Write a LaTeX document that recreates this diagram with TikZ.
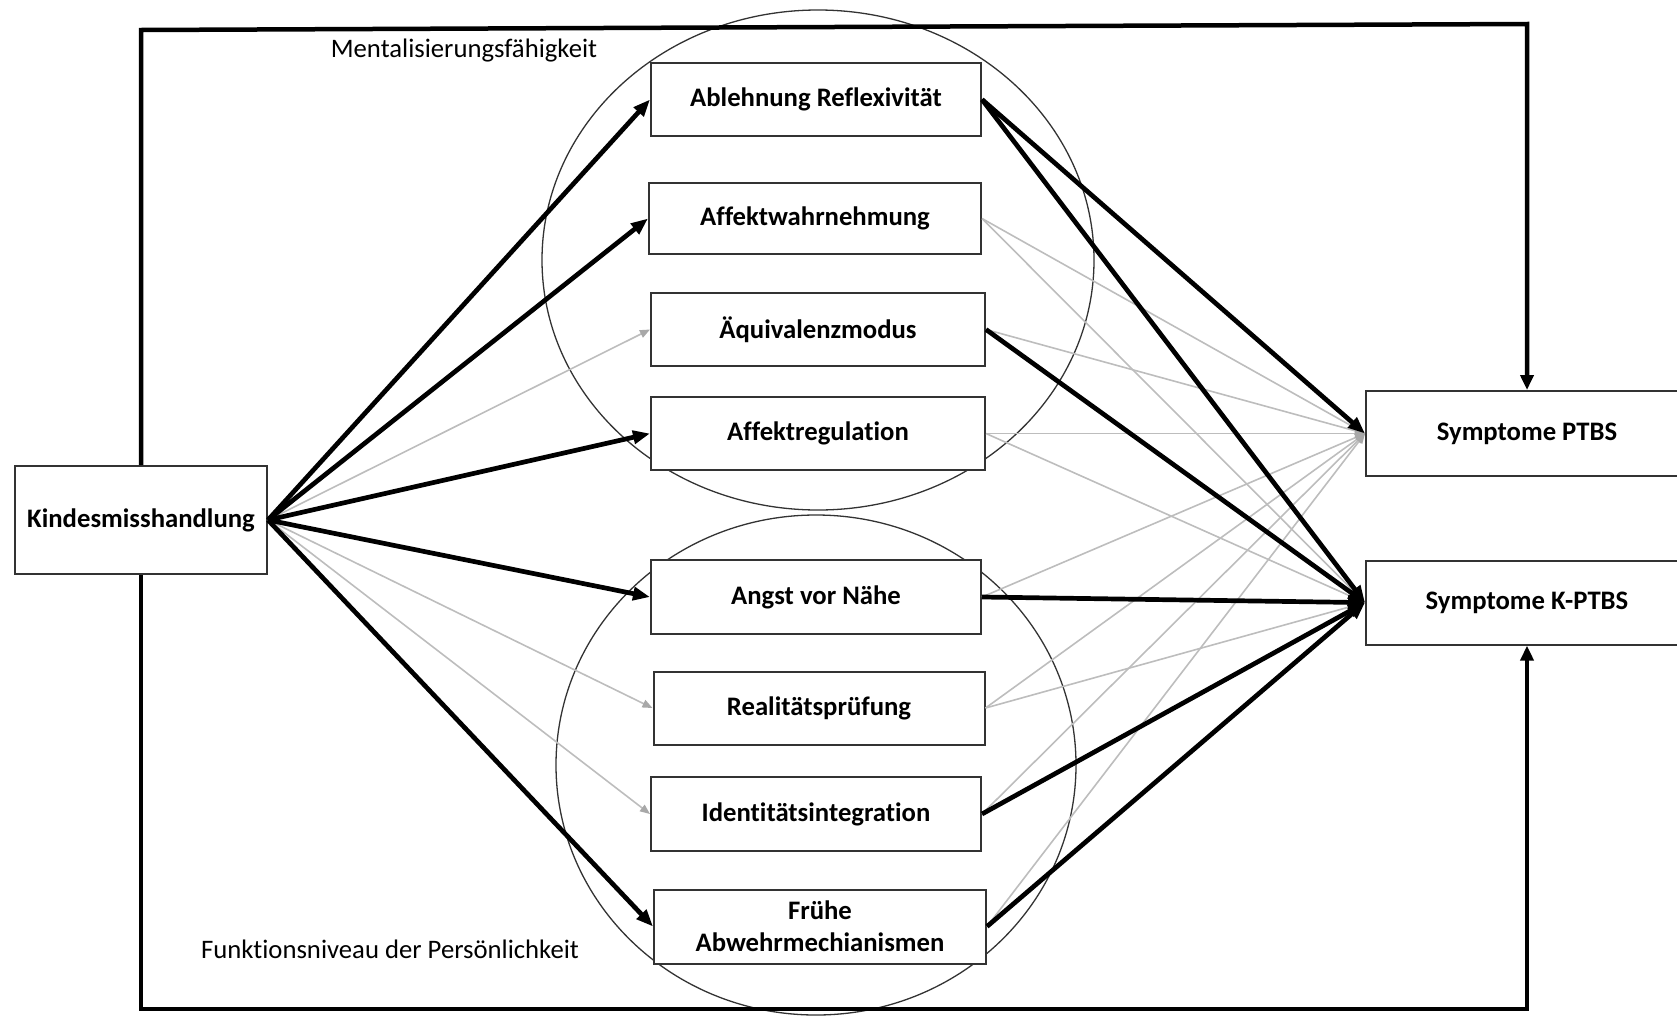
\documentclass[tikz,border=0pt]{standalone}
\usepackage{fontspec}
\setmainfont{Carlito}[Ligatures=NoCommon]
\usetikzlibrary{arrows.meta,shapes.geometric}
\definecolor{edgegray}{HTML}{BDBDBD}
\definecolor{headgray}{HTML}{A8A8A8}
\definecolor{boxline}{HTML}{333333}
\begin{document}
\begin{tikzpicture}[x=1pt,y=-1pt,
  box/.style={draw=boxline, line width=2pt, fill=white, inner sep=0pt,
    align=center, font=\fontsize{26.7}{32}\selectfont\bfseries},
  strong/.style={line width=4.7pt, -{Triangle[length=17pt,width=13pt]}},
  weak/.style={draw=edgegray, line width=1.6pt,
    -{Triangle[length=10pt,width=8pt,color=headgray]}},
  frame/.style={line width=4.5pt, line join=miter,
    -{Triangle[length=15pt,width=13pt]}},
  group/.style={ellipse, draw=boxline, line width=1.3pt, inner sep=0pt},
  caption/.style={font=\fontsize{26.7}{32}\selectfont, inner sep=0pt}
]
\useasboundingbox (0,0) rectangle (1677,1015);

% construct groupings
\node[group, minimum width=552pt, minimum height=500pt] (mentgroup) at (818,260) {};
\node[group, minimum width=520pt, minimum height=500pt] (persgroup) at (816,765) {};
\node[caption] (mentlabel) at (464,51) {Mentalisierungsfähigkeit};
\node[caption] (perslabel) at (390,949) {Funktionsniveau der Persönlichkeit};

% variables
\node[box, minimum width=252pt, minimum height=108pt] (kind)   at (141,520)   {Kindesmisshandlung};
\node[box, minimum width=330pt, minimum height=73pt]  (ablehn) at (816,99.5)  {Ablehnung Reflexivität};
\node[box, minimum width=332pt, minimum height=71pt]  (affw)   at (815,218.5) {Affektwahrnehmung};
\node[box, minimum width=334pt, minimum height=73pt]  (aequ)   at (818,329.5) {Äquivalenzmodus};
\node[box, minimum width=334pt, minimum height=73pt]  (affr)   at (818,433.5) {Affektregulation};
\node[box, minimum width=330pt, minimum height=74pt]  (angst)  at (816,597)   {Angst vor Nähe};
\node[box, minimum width=331pt, minimum height=73pt]  (real)   at (819,708)   {Realitätsprüfung};
\node[box, minimum width=330pt, minimum height=74pt]  (ident)  at (816,814)   {Identitätsintegration};
\node[box, minimum width=332pt, minimum height=74pt]  (fruehe) at (820,926.5) {Frühe\\Abwehrmechianismen};
\node[box, minimum width=322pt, minimum height=85pt]  (ptbs)   at (1527,433.5) {Symptome PTBS};
\node[box, minimum width=322pt, minimum height=84pt]  (kptbs)  at (1527,602.6) {Symptome K-PTBS};

% non-significant paths
\draw[weak] (kind.east) -- (aequ.west);
\draw[weak] (kind.east) -- (real.west);
\draw[weak] (kind.east) -- (ident.west);
\foreach \v in {affw,aequ,affr,angst,real,ident,fruehe}
  \draw[weak] (\v.east) -- (ptbs.west);
\foreach \v in {affw,affr,real}
  \draw[weak] (\v.east) -- (kptbs.west);

% significant paths
\foreach \v in {ablehn,affw,affr,angst,fruehe}
  \draw[strong] (kind.east) -- (\v.west);
\draw[strong] (ablehn.east) -- (ptbs.west);
\foreach \v in {ablehn,aequ,angst,ident,fruehe}
  \draw[strong] (\v.east) -- (kptbs.west);

% direct effects
\coordinate (topleft) at (141,30);
\coordinate (topright) at (1527,24);
\coordinate (botleft) at (141,1009);
\coordinate (botright) at (1527,1009);
\draw[frame] (kind.north) -- (topleft) -- (topright) -- (ptbs.north);
\draw[frame] (kind.south) -- (botleft) -- (botright) -- (kptbs.south);
\end{tikzpicture}
\end{document}
